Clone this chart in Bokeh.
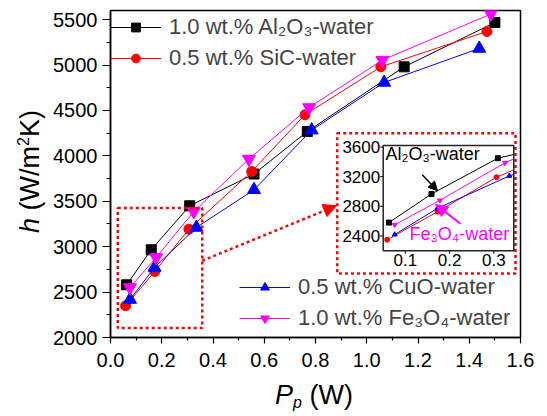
import numpy as np
from bokeh.plotting import figure
from bokeh.models import (Range1d, FixedTicker, PrintfTickFormatter, Legend, LegendItem,
                          Label, Arrow, NormalHead, BoxAnnotation, Div)
from bokeh.layouts import row, column
from bokeh.embed import file_html
from bokeh.resources import INLINE
from bokeh.core.properties import value

# ---------------- data ----------------
P_al = [0.063, 0.159, 0.309, 0.560, 0.768, 1.146, 1.500]
h_al = [2580, 2966, 3450, 3800, 4268, 4980, 5468]
P_sic = [0.059, 0.173, 0.306, 0.551, 0.759, 1.055, 1.469]
h_sic = [2349, 2727, 3193, 3828, 4452, 4980, 5369]
P_cuo = [0.076, 0.172, 0.335, 0.560, 0.785, 1.068, 1.439]
h_cuo = [2418, 2771, 3211, 3626, 4283, 4808, 5182]
P_fe = [0.076, 0.178, 0.325, 0.540, 0.775, 1.061, 1.484]
h_fe = [2550, 2881, 3387, 3964, 4532, 5054, 5561]

labels = ["1.0 wt.% Al\u2082O\u2083-water", "0.5 wt.% SiC-water",
          "0.5 wt.% CuO-water", "1.0 wt.% Fe\u2083O\u2084-water"]
x_ticks = [0.0, 0.2, 0.4, 0.6, 0.8, 1.0, 1.2, 1.4, 1.6]
y_ticks = [2000, 2500, 3000, 3500, 4000, 4500, 5000, 5500]
inset_x_ticks = [0.1, 0.2, 0.3]
inset_y_ticks = [2400, 2800, 3200, 3600]

FONT = "Liberation Sans"
YDIV_W = 48
TOTAL_W, TOTAL_H = 547, 416
P_H = 380

# page-pixel frame target
FL, FR, FT, FB = 110.0, 520.0, 10.0, 336.7

# ---------------- figure ----------------
p = figure(width=TOTAL_W - YDIV_W, height=P_H, x_range=Range1d(0, 1.6), y_range=Range1d(2000, 5600),
           output_backend="svg", toolbar_location=None,
           min_border_left=int(FL - YDIV_W), min_border_right=int(TOTAL_W - FR),
           min_border_top=int(FT), min_border_bottom=int(round(P_H - FB)))
p.grid.visible = False
p.outline_line_color = "black"
p.outline_line_width = 1.5
p.background_fill_color = "white"
p.border_fill_color = "white"

p.xaxis.ticker = FixedTicker(ticks=x_ticks, minor_ticks=list(np.arange(0.1, 1.6, 0.2)))
p.yaxis.ticker = FixedTicker(ticks=y_ticks, minor_ticks=list(range(2250, 5600, 500)))
p.xaxis.formatter = PrintfTickFormatter(format="%.1f")
for ax in (p.xaxis[0], p.yaxis[0]):
    ax.axis_line_width = 1.5
    ax.major_tick_in = 0
    ax.minor_tick_in = 0
    ax.major_label_text_font = FONT
    ax.major_label_text_font_size = "20px"
    ax.major_label_text_color = "black"
    ax.major_tick_line_width = 1.2
    ax.minor_tick_line_width = 1.2
p.xaxis.major_tick_out = 6
p.xaxis.minor_tick_out = 3
p.xaxis.major_label_standoff = 9
p.yaxis.major_tick_out = 8
p.yaxis.minor_tick_out = 4
p.yaxis.major_label_standoff = 5

def px_x(px):
    return (px - FL) / (FR - FL) * 1.6
def px_y(py):
    return 2000 + (FB - py) / (FB - FT) * 3600

series = [
    (P_al, h_al, "black", "square", 10),
    (P_sic, h_sic, "red", "circle", 10),
    (P_cuo, h_cuo, "blue", "triangle", 13),
    (P_fe, h_fe, "magenta", "inverted_triangle", 13),
]
rends = []
for xs, ys, c, m, s in series:
    rl = p.line(xs, ys, line_color=c, line_width=1)
    rm = p.scatter(xs, ys, marker=m, size=s, fill_color=c, line_color=c)
    rends.append([rl, rm])

leg_style = dict(background_fill_alpha=0, border_line_alpha=0, padding=0, margin=0,
                 spacing=5, glyph_width=51, glyph_height=22, label_height=22,
                 label_standoff=8, label_text_font=FONT, label_text_font_size="22px")
leg1 = Legend(items=[LegendItem(label=labels[0], renderers=rends[0]),
                     LegendItem(label=labels[1], renderers=rends[1])],
              location=(0, 265.7), **leg_style)
leg2 = Legend(items=[LegendItem(label=labels[2], renderers=rends[2]),
                     LegendItem(label=labels[3], renderers=rends[3])],
              location=(129, 6.3), **leg_style)
p.add_layout(leg1)
p.add_layout(leg2)

# ---------------- zoom boxes + arrow ----------------
p.add_layout(BoxAnnotation(left=px_x(117.3), right=px_x(201.7), top=px_y(207.3), bottom=px_y(327.3),
                           fill_alpha=0, line_alpha=1, line_color="red", line_width=2.5,
                           line_dash="3 3"))
p.add_layout(BoxAnnotation(left=px_x(336.7), right=px_x(515), top=px_y(132.7), bottom=px_y(272.7),
                           fill_alpha=0, line_alpha=1, line_color="red", line_width=2.5,
                           line_dash="3 3"))
p.add_layout(Arrow(end=NormalHead(size=13, fill_color="red", line_color="red"),
                   x_start=px_x(201.7), y_start=px_y(260), x_end=px_x(336), y_end=px_y(205),
                   line_color="red", line_width=2.5, line_dash="3 3"))

# ---------------- inset ----------------
IX0, IX1 = 0.05, 0.345
IY0, IY1 = 2200, 3620
BX0, BX1 = px_x(382.7), px_x(513.3)
BY0, BY1 = px_y(250), px_y(145)

def ix(v):
    return BX0 + (np.asarray(v, dtype=float) - IX0) / (IX1 - IX0) * (BX1 - BX0)
def iy(v):
    return BY0 + (np.asarray(v, dtype=float) - IY0) / (IY1 - IY0) * (BY1 - BY0)

def clip(xs, ys):
    xs = np.asarray(xs, float); ys = np.asarray(ys, float)
    ox, oy = [], []
    for i in range(len(xs)):
        if xs[i] <= IX1:
            ox.append(xs[i]); oy.append(ys[i])
        else:
            x0, y0 = xs[i - 1], ys[i - 1]
            t = (IX1 - x0) / (xs[i] - x0)
            ox.append(IX1); oy.append(y0 + t * (ys[i] - y0))
            break
    return np.array(ox), np.array(oy)

for xs, ys, c, m, s in series:
    cx, cy = clip(xs, ys)
    p.line(ix(cx), iy(cy), line_color=c, line_width=1)
    keep = np.asarray(xs) <= IX1
    p.scatter(ix(np.asarray(xs)[keep]), iy(np.asarray(ys)[keep]), marker=m, size=5,
              fill_color=c, line_color=c)

p.add_layout(BoxAnnotation(left=BX0, right=BX1, bottom=BY0, top=BY1, fill_alpha=0, line_alpha=1,
                           line_color="#222222", line_width=1.5))
dx = 1.6 / (FR - FL)
dy = 3600 / (FB - FT)
p.segment(x0=[BX0] * 4, x1=[BX0 - 3 * dx] * 4, y0=iy(inset_y_ticks), y1=iy(inset_y_ticks),
          line_color="black", line_width=1)
p.segment(x0=ix(inset_x_ticks), x1=ix(inset_x_ticks), y0=[BY0] * 3, y1=[BY0 - 3 * dy] * 3,
          line_color="black", line_width=1)
p.text(x=[BX0] * 4, y=iy(inset_y_ticks), text=[str(v) for v in inset_y_ticks], x_offset=-3,
       text_align="right", text_baseline="middle", text_font=value(FONT), text_font_size="17px",
       text_color="black")
p.text(x=ix(inset_x_ticks), y=[BY0] * 3, text=["%.1f" % v for v in inset_x_ticks], y_offset=3,
       text_align="center", text_baseline="top", text_font=value(FONT), text_font_size="17px",
       text_color="black")

p.add_layout(Label(x=px_x(385), y=px_y(163.3), text="Al\u2082O\u2083-water", text_font=FONT,
                   text_font_size="18px", text_color="black"))
p.add_layout(Arrow(end=NormalHead(size=9, fill_color="black", line_color="black"),
                   x_start=px_x(421.7), y_start=px_y(174), x_end=px_x(437), y_end=px_y(190),
                   line_color="black", line_width=1.5))
p.add_layout(Label(x=px_x(409), y=px_y(243.3), text="Fe\u2083O\u2084-water", text_font=FONT,
                   text_font_size="18px", text_color="magenta"))
p.add_layout(Arrow(end=NormalHead(size=12, fill_color="magenta", line_color="magenta"),
                   x_start=px_x(460), y_start=px_y(223), x_end=px_x(435), y_end=px_y(203.7),
                   line_color="magenta", line_width=2))

# ---------------- axis titles (HTML, mixed italic / sub / sup) ----------------
txt_style = ("white-space:nowrap;font-family:'Liberation Sans',Arial,sans-serif;font-size:27px;"
             "line-height:27px;color:black;")
ydiv = Div(width=YDIV_W, height=TOTAL_H, margin=0, styles={"overflow": "visible"},
           text=('<div style="position:relative;left:17px;top:233px;transform:rotate(-90deg);'
                 'transform-origin:0 0;' + txt_style + '"><i>h</i> (W/m<sup style="font-size:16px;'
                 'line-height:0">2</sup>K)</div>'))
xdiv = Div(width=TOTAL_W - YDIV_W, height=TOTAL_H - P_H, margin=0, styles={"overflow": "visible"},
           text=('<div style="position:relative;left:227px;top:2px;' + txt_style +
                 '"><i>P</i><sub style="font-size:16px;line-height:0;vertical-align:-4px"><i>p</i></sub> (W)</div>'))

layout = row(ydiv, column(p, xdiv))
open("out.html", "w").write(file_html(layout, INLINE))
